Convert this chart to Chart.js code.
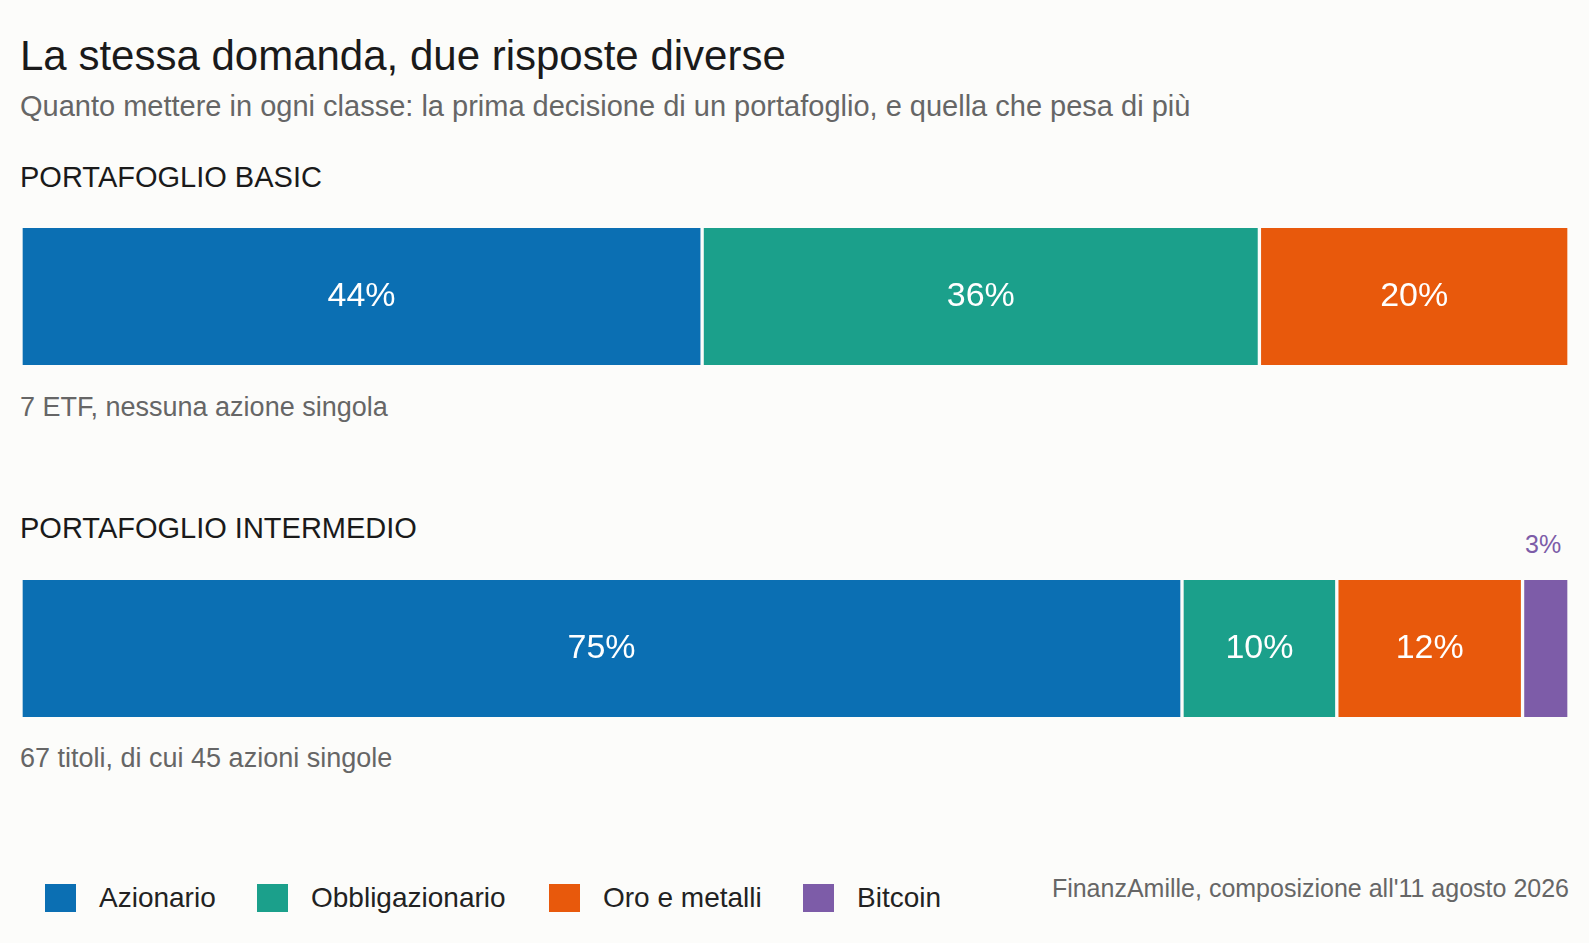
<!DOCTYPE html>
<html><head><meta charset="utf-8">
<script src="https://cdn.jsdelivr.net/npm/chart.js@4"></script>
<style>
body{margin:0;background:#fcfcfa;font-family:"Liberation Sans",Arial,sans-serif;width:1589px;height:943px;position:relative;overflow:hidden}
.t{position:absolute;left:20px;white-space:nowrap}
.c{position:absolute;left:21px;width:1548px;height:137px}
.lg{position:absolute;top:882px;display:flex;align-items:center;font-size:28px;color:#222}
.sw{width:31px;height:28px;margin-right:23px}
</style></head><body>
<div class="t" style="top:32px;font-size:42px;color:#1a1a1a">La stessa domanda, due risposte diverse</div>
<div class="t" style="top:90px;font-size:29px;color:#666">Quanto mettere in ogni classe: la prima decisione di un portafoglio, e quella che pesa di più</div>
<div class="t" style="top:161px;font-size:29px;color:#1a1a1a">PORTAFOGLIO BASIC</div>
<div class="t" style="top:392px;font-size:27px;color:#666">7 ETF, nessuna azione singola</div>
<div class="t" style="top:512px;font-size:29px;color:#1a1a1a">PORTAFOGLIO INTERMEDIO</div>
<div class="t" style="top:743px;font-size:27px;color:#666">67 titoli, di cui 45 azioni singole</div>
<div class="c" style="top:228px"><canvas id="c1"></canvas></div>
<div class="c" style="top:580px"><canvas id="c2"></canvas></div>
<div class="t" style="top:530px;left:1525px;font-size:25px;color:#7d5ca8">3%</div>
<div id="legend"></div>
<div class="t" style="top:874px;left:auto;right:20px;font-size:25px;color:#666">FinanzAmille, composizione all'11 agosto 2026</div>
<script>
const categories=["Azionario","Obbligazionario","Oro e metalli","Bitcoin"];
const colors=["#0b6fb3","#1ba08b","#e8590c","#7d5ca8"];
const basicValues=[44,36,20,0];
const intermedioValues=[75,10,12,3];
const legendX=[45,257,549,803];
const lg=document.getElementById('legend');
categories.forEach((c,i)=>{const d=document.createElement('div');d.className='lg';d.style.left=legendX[i]+'px';d.innerHTML='<div class="sw" style="background:'+colors[i]+'"></div>'+c;lg.appendChild(d);});
const labelPlugin={id:'lbl',afterDatasetsDraw(ch){const ctx=ch.ctx;ch.data.datasets.forEach((ds,i)=>{const m=ch.getDatasetMeta(i).data[0];const v=ds.data[0];if(v<5)return;ctx.save();ctx.fillStyle='#fff';ctx.font='34px "Liberation Sans",Arial';ctx.textAlign='center';ctx.textBaseline='middle';ctx.fillText(v+'%',(m.x+m.base)/2,m.y);ctx.restore();});}};
function make(id,vals){
 new Chart(document.getElementById(id),{type:'bar',
  data:{labels:[''],datasets:categories.map((c,i)=>({label:c,data:[vals[i]],backgroundColor:colors[i],borderColor:'#fcfcfa',borderWidth:{left:2,right:2,top:0,bottom:0},borderSkipped:false}))},
  options:{indexAxis:'y',responsive:true,maintainAspectRatio:false,animation:false,layout:{padding:0},
   barPercentage:1,categoryPercentage:1,
   plugins:{legend:{display:false},tooltip:{enabled:false}},
   scales:{x:{stacked:true,min:0,max:100,display:false},y:{stacked:true,display:false}}},
  plugins:[labelPlugin]});
}
make('c1',basicValues);make('c2',intermedioValues);
</script></body></html>
